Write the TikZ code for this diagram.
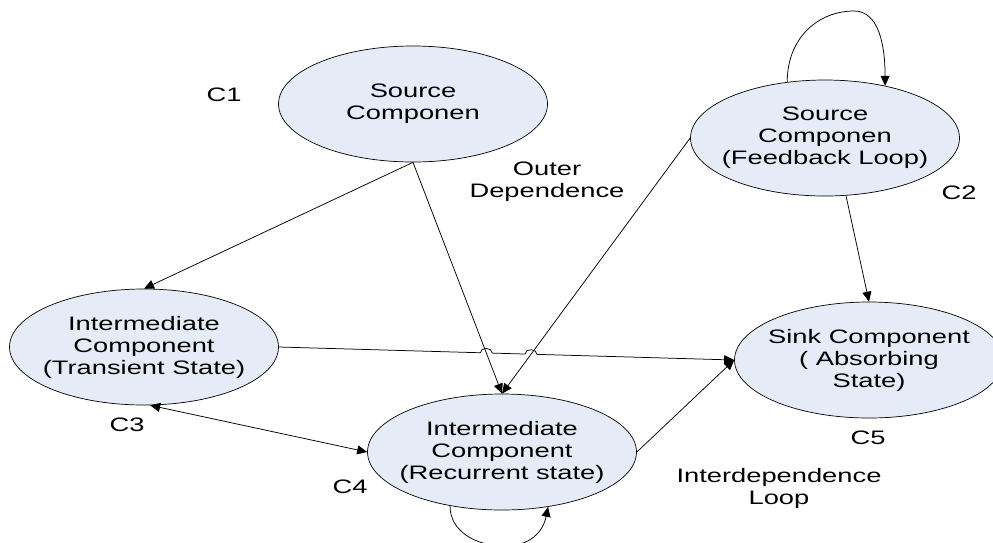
\documentclass[tikz,border=0pt]{standalone}
\usepackage{fontspec}
\setmainfont{Liberation Sans}[FakeStretch=1.4]
\usetikzlibrary{arrows.meta,calc,intersections,shapes.geometric}
\definecolor{compfill}{RGB}{229,235,247}
\begin{document}
\begin{tikzpicture}[x=1pt,y=-1pt,
  comp/.style={ellipse,draw=black,line width=0.7pt,fill=compfill,minimum width=269pt,minimum height=116pt,inner sep=0pt},
  txt/.style={align=center,font=\fontsize{19.5}{22}\selectfont,inner sep=0pt},
  conn/.style={line width=0.75pt,-{Triangle[length=10pt,width=9pt]}},
  dconn/.style={line width=0.75pt,{Triangle[length=10pt,width=9pt]}-{Triangle[length=10pt,width=9pt]}}]
\useasboundingbox (0,0) rectangle (993,542);
\clip (0,0) rectangle (993,542);

% components
\node[comp] (c1) at (413,104) {};
\node[comp] (c2) at (825,138) {};
\node[comp] (c3) at (144,347) {};
\node[comp] (c4) at (502,452) {};
\node[comp] (c5) at (869,360) {};

\node[txt] (t1) at (c1) {Source\\Componen};
\node[txt] (t2) at (c2) {Source\\Componen\\(Feedback Loop)};
\node[txt] (t3) at (c3) {Intermediate\\Component\\(Transient State)};
\node[txt] (t4) at (c4) {Intermediate\\Component\\(Recurrent state)};
\node[txt] (t5) at (c5) {Sink Component\\( Absorbing\\State)};

% labels
\node[txt] (l1) at (224,95) {C1};
\node[txt] (l2) at (959,193) {C2};
\node[txt] (l3) at (127,425) {C3};
\node[txt] (l4) at (350,487) {C4};
\node[txt] (l5) at (868,438) {C5};
\node[txt] (od) at (547,182) {Outer\\Dependence};
\node[txt] (il) at (779,488) {Interdependence\\Loop};

% connectors
\draw[conn] (c1.south) -- (c3.north);
\draw[conn, name path=p14] (c1.south) -- (c4.north);
\draw[conn, name path=p24] (c2.west) -- (c4.north);
\draw[conn] (c2.-70) -- (c5.north);
\draw[conn] (c4.east) -- (c5.west);
\draw[dconn] (c3.-84) -- (c4.west);

\path[name path=p35] (c3.east) -- (c5.west);
\path[name intersections={of=p35 and p14,by=h1}];
\path[name intersections={of=p35 and p24,by=h2}];
\draw[conn] (c3.east) -- ($(h1)!6pt!(c3.east)$)
  .. controls +(0,-6) and +(0,-6) .. ($(h1)!6pt!(c5.west)$)
  -- ($(h2)!6pt!(c3.east)$)
  .. controls +(0,-6) and +(0,-6) .. ($(h2)!6pt!(c5.west)$)
  -- (c5.west);

% self loops
\coordinate (lp2) at (854,11);
\draw[conn] (c2.124) .. controls +(0,-45) and +(-35,0) .. (lp2)
  .. controls +(25,0) and +(0,-40) .. (c2.41);
\coordinate (lp4) at (505,546);
\draw[conn] (c4.-134) .. controls +(0,25) and +(-30,0) .. (lp4)
  .. controls +(25,0) and +(-5,25) .. (c4.-50);
\end{tikzpicture}
\end{document}
